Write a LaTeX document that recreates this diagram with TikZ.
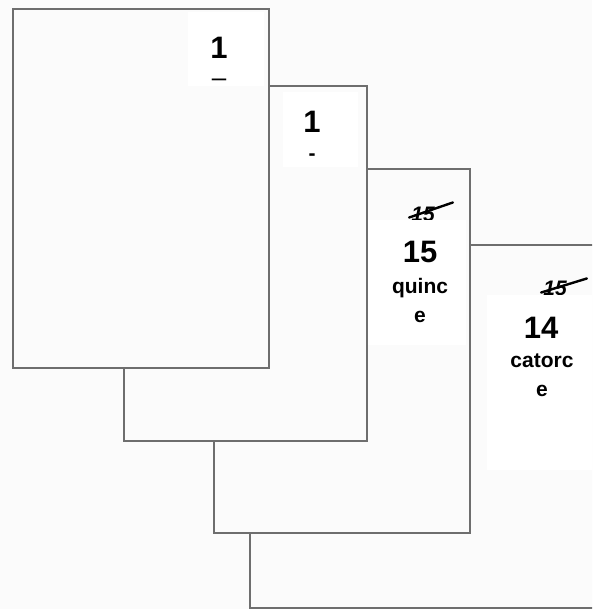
\documentclass[tikz,border=0pt]{standalone}
\usepackage{fontspec}
\setmainfont{Liberation Sans}
\usetikzlibrary{positioning}
\definecolor{paperTint}{HTML}{FBFBFB}
\definecolor{edgeGray}{HTML}{6E6E6E}

\begin{document}
\begin{tikzpicture}[
  x=1pt, y=-1pt,
  page/.style={draw=edgeGray, line width=1.6pt, fill=paperTint, anchor=north west, inner sep=0pt},
  tagbox/.style={fill=white, inner sep=0pt, anchor=north west},
  bignum/.style={font=\fontsize{31}{31}\selectfont\bfseries, anchor=base, inner sep=0pt},
  word/.style={font=\fontsize{21}{21}\selectfont\bfseries, anchor=base, inner sep=0pt},
  oldnum/.style={font=\fontsize{21}{21}\selectfont\itshape\bfseries, inner sep=0pt},
  strike/.style={line width=2.4pt, line cap=round},
]

\clip (0,0) rectangle (592,609);
\fill[paperTint] (0,0) rectangle (592,609);

% back page: catorce
\node[page, minimum width=391pt, minimum height=363pt] (page4) at (249,244) {};
\node[oldnum] (old4) at (555,288) {15};
\draw[strike] ([shift={(-2,-3)}]old4.south west) -- ([shift={(20,-2)}]old4.north east);
\node[tagbox, minimum width=105pt, minimum height=175pt] (tag4) at (487,295) {};
\node[bignum] (num4) at (541,338) {14};
\node[word] (word4a) at (542,367) {catorc};
\node[word] (word4b) at (542,396) {e};

% third page: quince
\node[page, minimum width=256pt, minimum height=364pt] (page3) at (213,168) {};
\node[oldnum] (old3) at (423,214) {15};
\draw[strike] ([shift={(-2,-4)}]old3.south west) -- ([shift={(18,-4)}]old3.north east);
\node[tagbox, minimum width=98pt, minimum height=125pt] (tag3) at (368,220) {};
\node[bignum] (num3) at (420,262) {15};
\node[word] (word3a) at (420,293) {quinc};
\node[word] (word3b) at (420,322) {e};

% second page
\node[page, minimum width=243pt, minimum height=355pt] (page2) at (123,85) {};
\node[tagbox, minimum width=75pt, minimum height=75pt] (tag2) at (283,92) {};
\node[bignum] (num2) at (312,133) {1};
\node[word] (dash2) at (312,161) {-};

% front page
\node[page, minimum width=256pt, minimum height=359pt] (page1) at (12,8) {};
\node[tagbox, minimum width=76pt, minimum height=74pt] (tag1) at (188,12) {};
\node[bignum] (num1) at (219,59) {1};
\node[font=\fontsize{26}{26}\selectfont, anchor=base, inner sep=0pt] (dash1) at (219,87) {–};

\end{tikzpicture}
\end{document}
